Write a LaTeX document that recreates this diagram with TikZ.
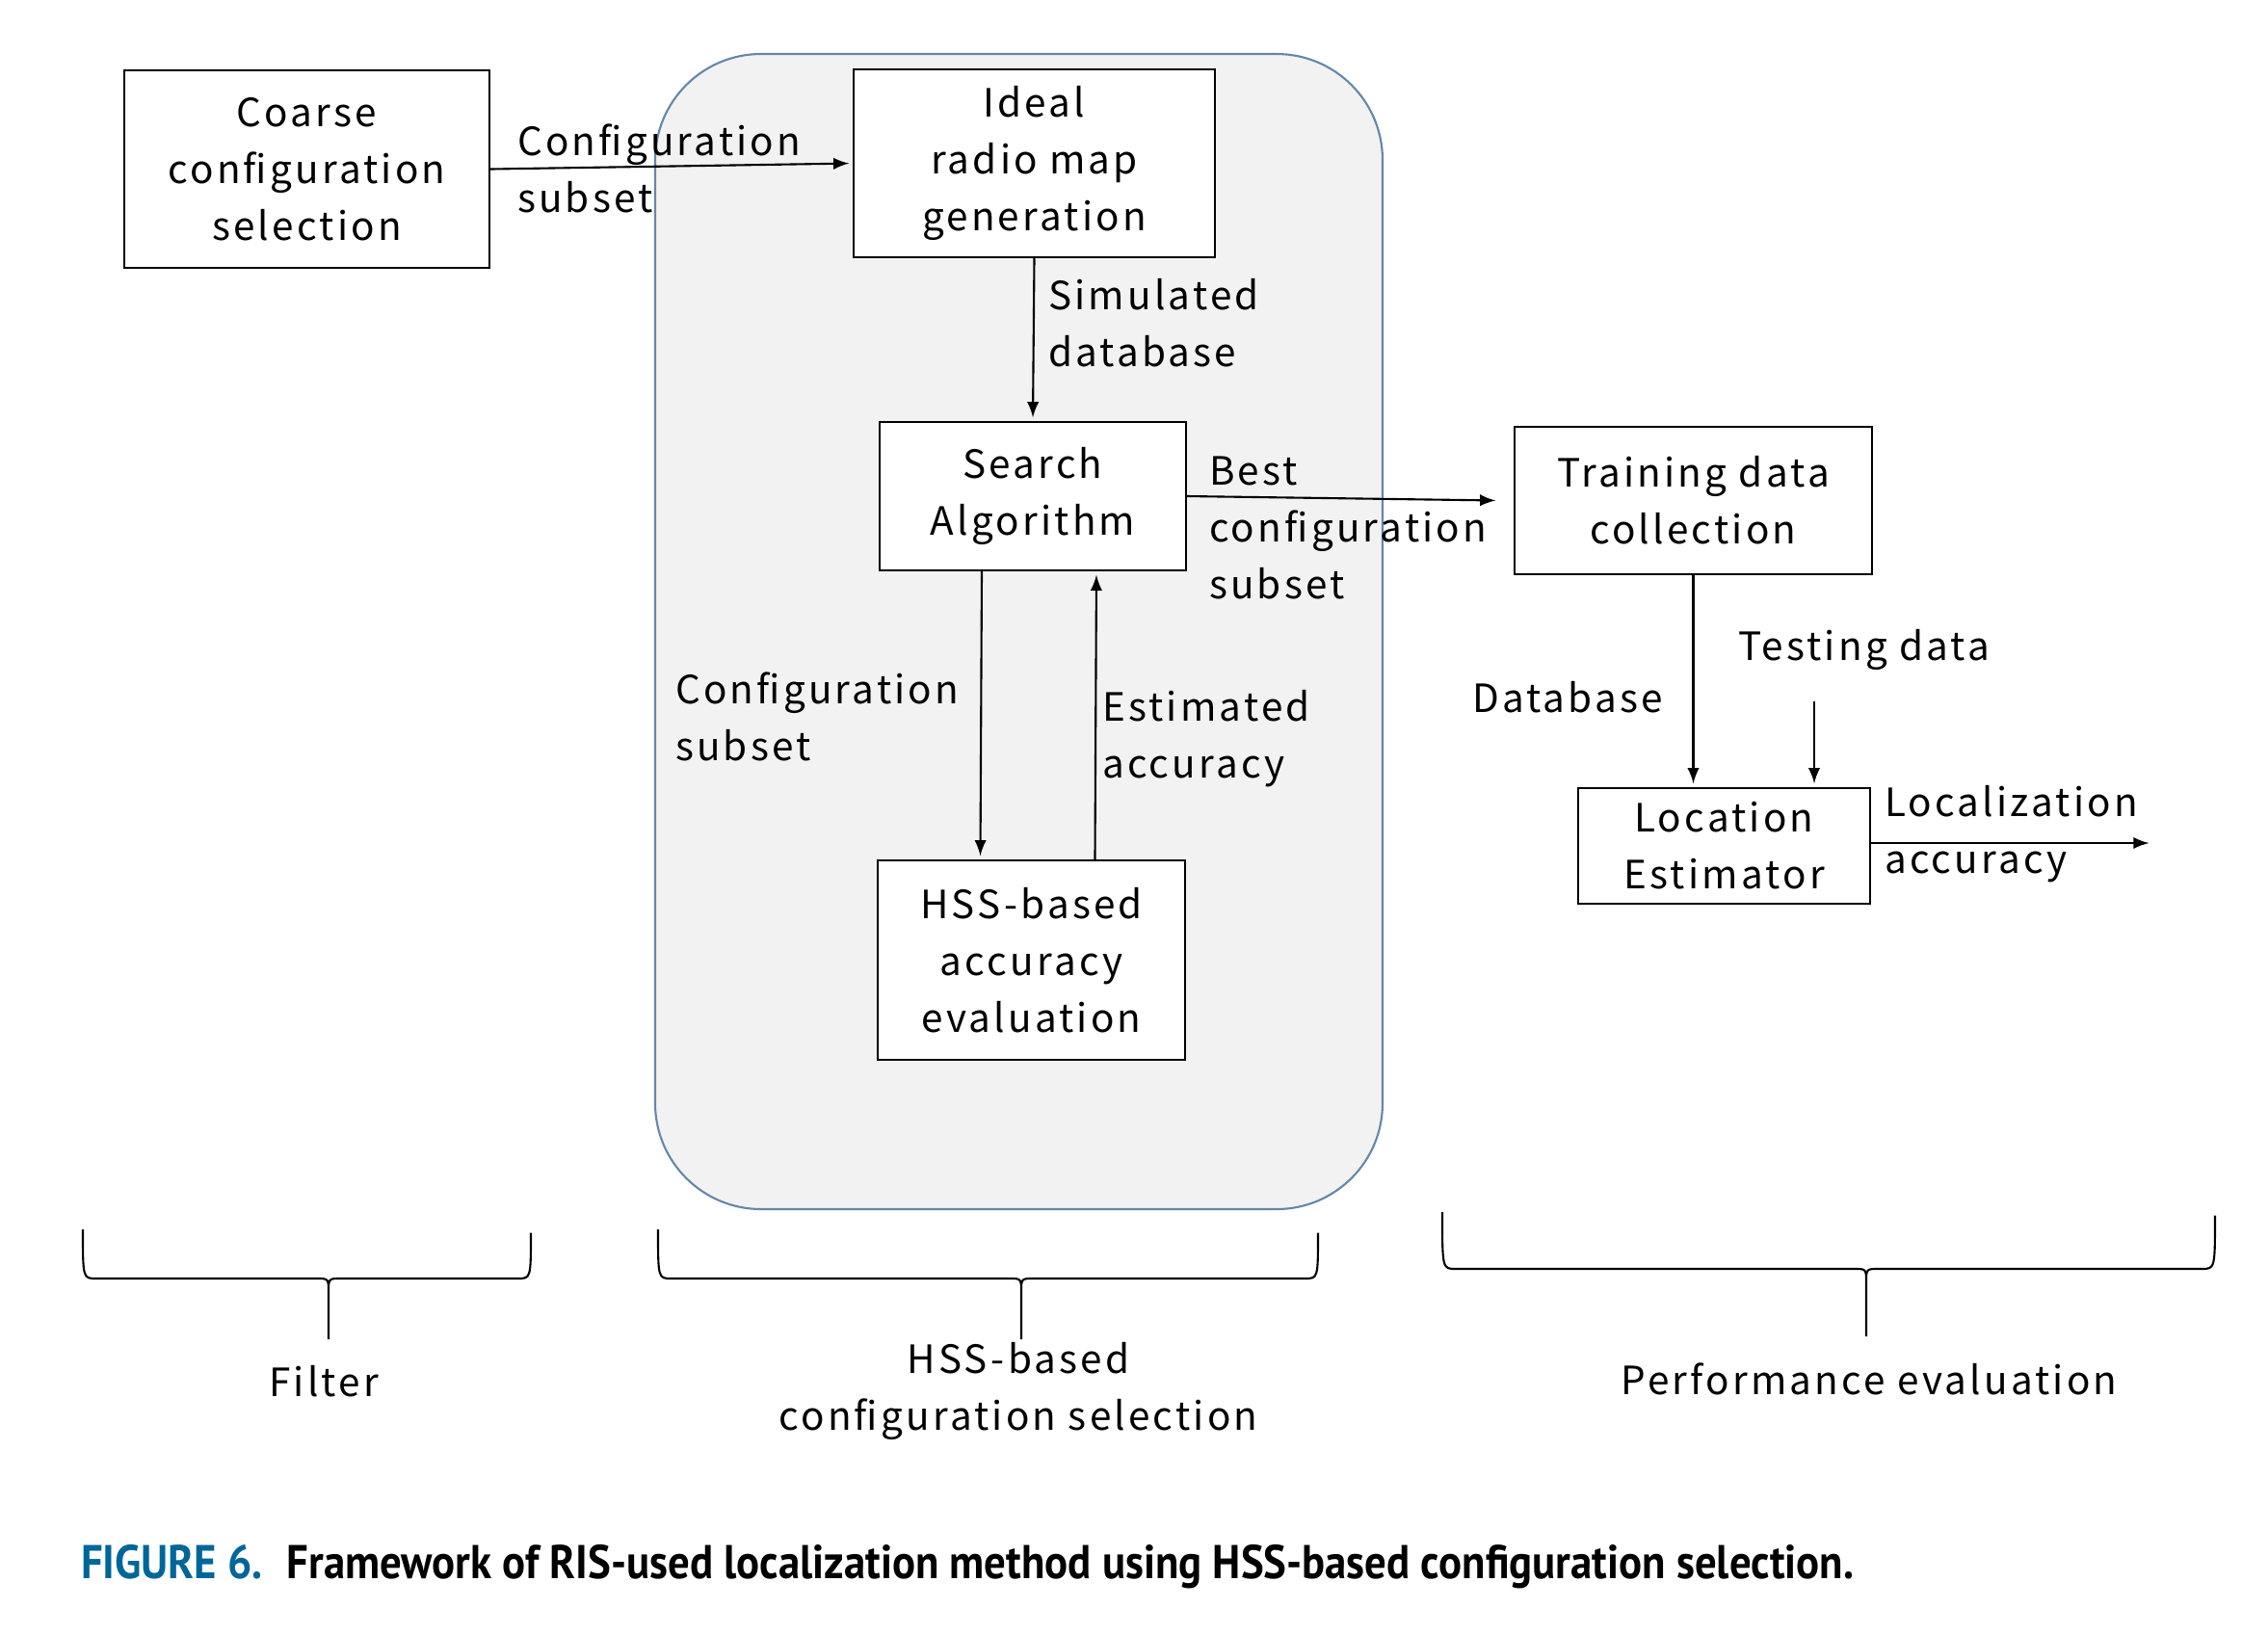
\documentclass[tikz,border=0pt]{standalone}
\usepackage{fontspec}
\setmainfont[LetterSpace=8]{Noto Sans CJK JP}
\newfontfamily\capfont[FakeStretch=0.91]{PT Sans}
\usetikzlibrary{arrows}
\definecolor{panelgray}{HTML}{F2F2F2}
\definecolor{rimblue}{RGB}{100,135,170}
\definecolor{figblue}{RGB}{0,102,153}

\begin{document}
\begin{tikzpicture}[->,>=latex,shorten >=1pt,auto,line width=0.6pt,
  every node/.style={font=\fontsize{11.5}{16.8}\selectfont},
  block/.style={draw,-,line width=0.7pt,fill=white,align=center,inner sep=0pt},
  lbl/.style={align=left,anchor=west,inner sep=0pt}]
  \useasboundingbox (0,0) rectangle (23.54,-16.96);

  % shaded stage
  \draw[-,rimblue,fill=panelgray,rounded corners=1.1cm] (6.80,-0.56) rectangle (14.35,-12.55);

  \node [block,minimum width=3.79cm,minimum height=2.05cm] (coarse) at (3.185,-1.755) {Coarse\\configuration\\selection};
  \node [block,minimum width=3.75cm,minimum height=1.95cm] (ideal) at (10.735,-1.695) {Ideal\\radio map\\generation};
  \node [block,minimum width=3.18cm,minimum height=1.54cm] (search) at (10.72,-5.15) {Search\\Algorithm};
  \node [block,minimum width=3.19cm,minimum height=2.07cm] (hss) at (10.705,-9.965) {HSS-based\\accuracy\\evaluation};
  \node [block,minimum width=3.71cm,minimum height=1.53cm] (train) at (17.575,-5.195) {Training data\\collection};
  \node [block,minimum width=3.03cm,minimum height=1.20cm] (locest) at (17.895,-8.78) {Location\\Estimator};

  \coordinate (testin) at (18.83,-7.28);
  \coordinate (accout) at (22.34,-8.75);

  \path[->] (coarse.east) edge (ideal.west);
  \path[->] (ideal.south) edge (search.north);
  \path[->] ([xshift=-0.53cm]search.south) edge ([xshift=-0.53cm]hss.north);
  \path[->] ([xshift=0.66cm]hss.north) edge ([xshift=0.66cm]search.south);
  \path[->] (search.east) edge ([xshift=-0.15cm]train.west);
  \path[->] (train.south) edge (train.south |- locest.north);
  \path[->] (testin) edge (testin |- locest.north);
  \path[->] (locest.east |- accout) edge (accout);

  \node [lbl] (l1) at (5.36,-1.75) {Configuration\\subset};
  \node [lbl] (l2) at (10.87,-3.355) {Simulated\\database};
  \node [lbl] (l3) at (7.00,-7.44) {Configuration\\subset};
  \node [lbl] (l4) at (11.43,-7.665) {Estimated\\accuracy};
  \node [lbl] (l5) at (12.54,-5.48) {Best\\configuration\\subset};
  \node [lbl] (l6) at (15.27,-7.24) {Database};
  \node [lbl] (l7) at (18.03,-6.74) {Testing data};
  \node [lbl] (l8) at (19.55,-8.655) {Localization\\accuracy};

  % braces
  \draw[-] (0.86,-12.76) .. controls (0.86,-13.27) .. (1.0,-13.27) -- (3.29,-13.27) .. controls (3.41,-13.27) .. (3.41,-13.42) -- (3.41,-13.90)
    (3.41,-13.42) .. controls (3.41,-13.27) .. (3.53,-13.27) -- (5.37,-13.27) .. controls (5.51,-13.27) .. (5.51,-12.76);
  \draw[-] (6.83,-12.76) .. controls (6.83,-13.27) .. (6.97,-13.27) -- (10.48,-13.27) .. controls (10.60,-13.27) .. (10.60,-13.42) -- (10.60,-13.90)
    (10.60,-13.42) .. controls (10.60,-13.27) .. (10.72,-13.27) -- (13.54,-13.27) .. controls (13.68,-13.27) .. (13.68,-12.76);
  \draw[-] (14.97,-12.58) .. controls (14.97,-13.17) .. (15.11,-13.17) -- (19.25,-13.17) .. controls (19.37,-13.17) .. (19.37,-13.32) -- (19.37,-13.87)
    (19.37,-13.32) .. controls (19.37,-13.17) .. (19.49,-13.17) -- (22.85,-13.17) .. controls (22.99,-13.17) .. (22.99,-12.58);

  \node (filt) at (3.36,-14.34) {Filter};
  \node [align=center] (hsssel) at (10.57,-14.44) {HSS-based\\configuration selection};
  \node (perf) at (19.40,-14.31) {Performance evaluation};

  \node [anchor=west,inner sep=0pt,font=\capfont\bfseries\fontsize{14}{16}\selectfont] (cap) at (0.83,-16.26)
    {\textcolor{figblue}{FIGURE 6.}\hspace{0.5em}Framework of RIS-used localization method using HSS-based configuration selection.};
\end{tikzpicture}
\end{document}
